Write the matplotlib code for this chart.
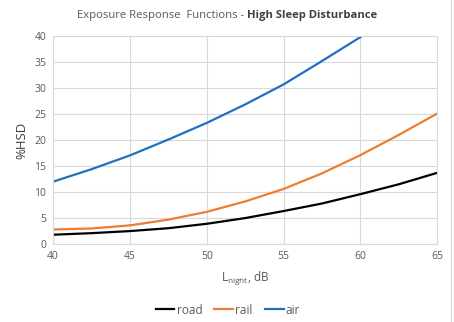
import matplotlib.pyplot as plt
from matplotlib.lines import Line2D

# Values (L_night in dB, %HSD)
lnight = [40, 42.5, 45, 47.5, 50, 52.5, 55, 57.5, 60, 62.5, 65]
road = [1.8, 2.1, 2.5, 3.05, 3.9, 5.0, 6.35, 7.8, 9.6, 11.5, 13.7]
rail = [2.8, 3.0, 3.6, 4.7, 6.2, 8.2, 10.6, 13.6, 17.1, 21.0, 25.1]
air_x = [40, 42.5, 45, 47.5, 50, 52.5, 55, 57.5, 60, 61]
air = [12.0, 14.4, 17.05, 20.1, 23.3, 26.85, 30.7, 35.2, 39.8, 41.8]

xticks = [40, 45, 50, 55, 60, 65]
yticks = [0, 5, 10, 15, 20, 25, 30, 35, 40]

plt.rcParams['font.family'] = ['Open Sans', 'DejaVu Sans']

fig = plt.figure(figsize=(4.54, 3.22), dpi=100)
ax = fig.add_axes([0.117, 0.242, 0.846, 0.646])

ax.plot(lnight, road, color='black', lw=1.6, label='road')
ax.plot(lnight, rail, color='#ED7D31', lw=1.6, label='rail')
ax.plot(air_x, air, color='#1F70C1', lw=1.6, label='air')

ax.set_xlim(40, 65)
ax.set_ylim(0, 40)
ax.set_xticks(xticks)
ax.set_yticks(yticks)
ax.grid(True, color='#d9d9d9', lw=0.8)
ax.set_axisbelow(True)
for s in ax.spines.values():
    s.set_color('#d9d9d9')
    s.set_linewidth(0.8)
ax.tick_params(length=0, labelsize=7.5, colors='#595959', pad=5)

ax.set_ylabel('%HSD', fontsize=9.5, color='#404040', labelpad=4)
ax.set_xlabel('L$_{\\mathregular{night}}$, dB', fontsize=8.5, color='#595959', labelpad=6)

# title: regular part + bold part
fig.text(0.543, 0.952, 'Exposure Response  Functions - ', ha='right', va='center',
         fontsize=8.1, color='#595959')
fig.text(0.543, 0.952, 'High Sleep Disturbance', ha='left', va='center',
         fontsize=8.1, color='#404040', fontweight='bold')

ax.legend(loc='upper center', bbox_to_anchor=(0.455, -0.235), ncol=3, frameon=False,
          fontsize=8.5, handlelength=1.6, handletextpad=0.2, columnspacing=1.0,
          labelcolor='#595959')

fig.add_artist(Line2D([451 / 454, 451 / 454], [0, 1], color='#d9d9d9', lw=0.8))

fig.savefig('out.png', dpi=100)
